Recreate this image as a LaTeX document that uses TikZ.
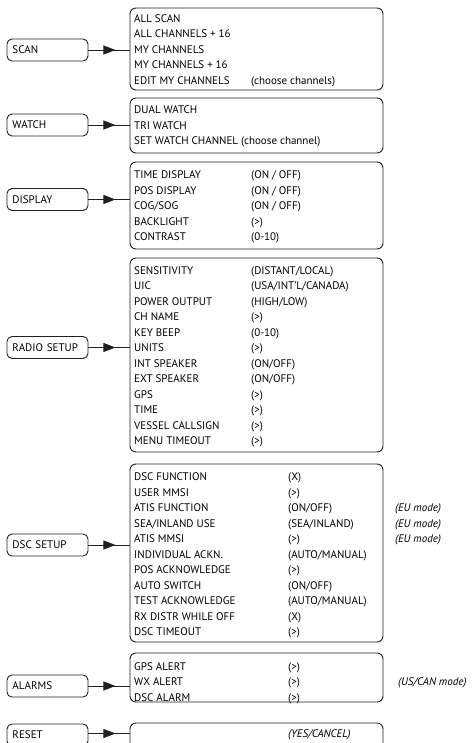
\documentclass[tikz,border=0pt]{standalone}
\usepackage{fontspec}
\setmainfont{PT Sans}
\usetikzlibrary{arrows.meta,decorations.markings}
\definecolor{menuline}{HTML}{231F20}
\begin{document}
\begin{tikzpicture}[x=1pt,y=-1pt,
  key/.style={draw=menuline,line width=0.9pt,rounded corners=5pt,minimum height=22pt,text width=70pt,inner xsep=5.5pt,align=left,font=\fontsize{11}{13}\selectfont},
  menubox/.style={draw=menuline,line width=0.9pt,rounded corners=6pt,minimum width=253pt,inner sep=0pt},
  items/.style={anchor=base west,inner sep=0pt,font=\fontsize{11}{15.5}\selectfont},
  link/.style={draw=menuline,line width=0.9pt,postaction={decorate},
    decoration={markings,mark=at position 27pt with {\arrow{Triangle[length=12pt,width=9pt]}}}}]
\useasboundingbox (0,0) rectangle (474,743);
\clip (0,0) rectangle (474,743);
\node (scan) [key] at (47.5,50) {SCAN};
\node (scanmenu) [menubox,minimum height=82pt] at (256.5,49) {};
\node (scanitems) [items] at (134,22.3) {\begin{tabular}[t]{@{}p{117pt}@{}l@{}}
ALL SCAN\\ ALL CHANNELS + 16\\ MY CHANNELS\\ MY CHANNELS + 16\\ EDIT MY CHANNELS & (choose channels)\end{tabular}};
\node (watch) [key] at (47.5,125) {WATCH};
\node (watchmenu) [menubox,minimum height=55pt] at (256.5,125.5) {};
\node (watchitems) [items] at (134,114) {\begin{tabular}[t]{@{}l@{}}
DUAL WATCH\\ TRI WATCH\\ SET WATCH CHANNEL (choose channel)\end{tabular}};
\node (display) [key] at (47.5,199.5) {DISPLAY};
\node (displaymenu) [menubox,minimum height=87pt] at (256.5,205.5) {};
\node (displayitems) [items] at (134,179) {\begin{tabular}[t]{@{}p{117pt}@{}l@{}}
TIME DISPLAY & (ON / OFF)\\ POS DISPLAY & (ON / OFF)\\ COG/SOG & (ON / OFF)\\ BACKLIGHT & (>)\\ CONTRAST & (0-10)\end{tabular}};
\node (radio) [key] at (47.5,347.5) {RADIO~SETUP};
\node (radiomenu) [menubox,minimum height=194pt] at (256.5,355) {};
\node (radioitems) [items] at (134,274) {\begin{tabular}[t]{@{}p{117pt}@{}l@{}}
SENSITIVITY & (DISTANT/LOCAL)\\ UIC & (USA/INT’L/CANADA)\\ POWER OUTPUT & (HIGH/LOW)\\ CH NAME & (>)\\
KEY BEEP & (0-10)\\ UNITS & (>)\\ INT SPEAKER & (ON/OFF)\\ EXT SPEAKER & (ON/OFF)\\ GPS & (>)\\ TIME & (>)\\
VESSEL CALLSIGN & (>)\\ MENU TIMEOUT & (>)\end{tabular}};
\node (dsc) [key] at (47.5,545) {DSC SETUP};
\node (dscmenu) [menubox,minimum height=178pt] at (256.5,553) {};
\node (dscitems) [items] at (134,480.6) {\begin{tabular}[t]{@{}p{154pt}@{}p{107pt}@{}l@{}}
DSC FUNCTION & (X)\\ USER MMSI & (>)\\ ATIS FUNCTION & (ON/OFF) & \textit{(EU mode)}\\
SEA/INLAND USE & (SEA/INLAND) & \textit{(EU mode)}\\ ATIS MMSI & (>) & \textit{(EU mode)}\\
INDIVIDUAL ACKN. & (AUTO/MANUAL)\\ POS ACKNOWLEDGE & (>)\\ AUTO SWITCH & (ON/OFF)\\
TEST ACKNOWLEDGE & (AUTO/MANUAL)\\ RX DISTR WHILE OFF & (X)\\ DSC TIMEOUT & (>)\end{tabular}};
\node (alarms) [key] at (47.5,686) {ALARMS};
\node (alarmsmenu) [menubox,minimum height=49pt] at (256.5,677.5) {};
\node (alarmsitems) [items] at (134,670) {\begin{tabular}[t]{@{}p{154pt}@{}p{110pt}@{}l@{}}
GPS ALERT & (>)\\ WX ALERT & (>) & \textit{(US/CAN mode)}\\ DSC ALARM & (>)\end{tabular}};
\node (reset) [key] at (47.5,735) {RESET};
\node (resetmenu) [menubox,minimum height=30pt] at (256.5,738) {};
\node (resetitems) [items] at (288,737.2) {\textit{(YES/CANCEL)}};
\foreach \k/\m in {scan/scanmenu,watch/watchmenu,display/displaymenu,radio/radiomenu,dsc/dscmenu,alarms/alarmsmenu}
  \path[link] (\k.east) -- (\k.east -| \m.west);
\path[link] (reset.east) ++(0,-1.5) coordinate (resetend) -- (resetend -| resetmenu.west);
\end{tikzpicture}
\end{document}
